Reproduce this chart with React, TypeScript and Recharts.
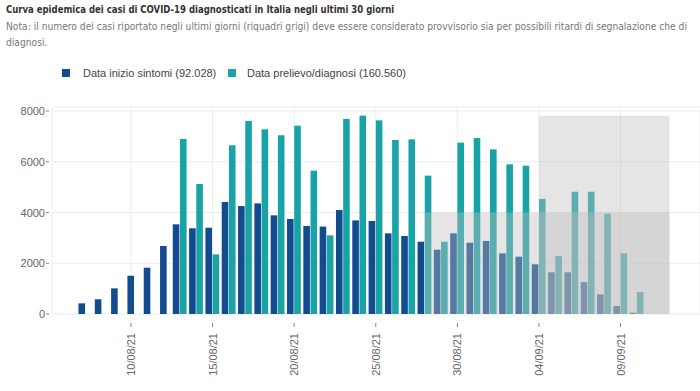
import { BarChart, Bar, XAxis, YAxis, CartesianGrid, ReferenceArea } from "recharts"

// giorni sull'asse (gli ultimi due servono solo per i riquadri grigi)
const dates = [
  "07/08/21", "08/08/21", "09/08/21", "10/08/21", "11/08/21", "12/08/21", "13/08/21",
  "14/08/21", "15/08/21", "16/08/21", "17/08/21", "18/08/21", "19/08/21", "20/08/21",
  "21/08/21", "22/08/21", "23/08/21", "24/08/21", "25/08/21", "26/08/21", "27/08/21",
  "28/08/21", "29/08/21", "30/08/21", "31/08/21", "01/09/21", "02/09/21", "03/09/21",
  "04/09/21", "05/09/21", "06/09/21", "07/09/21", "08/09/21", "09/09/21", "10/09/21",
  "11/09/21", "12/09/21",
]

// Data inizio sintomi
const sintomi = [
  420, 580, 1010, 1510, 1825, 2680, 3535,
  3380, 3400, 4415, 4255, 4360, 3890, 3745,
  3470, 3445, 4100, 3690, 3665, 3180, 3075,
  2850, 2535, 3180, 2810, 2880, 2390, 2260,
  1960, 1645, 1645, 1260, 775, 315, 50,
]

// Data prelievo/diagnosi
const diagnosi: (number | null)[] = [
  null, null, null, null, null, null, 6900,
  5125, 2350, 6650, 7610, 7280, 7045, 7425,
  5650, 3100, 7690, 7820, 7635, 6860, 6885,
  5455, 2850, 6755, 6935, 6490, 5900, 5845,
  4535, 2285, 4820, 4820, 3955, 2390, 865,
]

const tickDates = ["10/08/21", "15/08/21", "20/08/21", "25/08/21", "30/08/21", "04/09/21", "09/09/21"]
const yTicks = [0, 2000, 4000, 6000, 8000]

// riquadri grigi (dati provvisori)
const boxLow = { from: "28/08/21", to: "12/09/21", top: 4000 }
const boxHigh = { from: "04/09/21", to: "12/09/21" }

const BLUE = "#124b8e"
const TEAL = "#1aa3a7"
const GAP = 0.6

const data = sintomi.map((v, i) => ({ idx: i, sintomi: v, diagnosi: diagnosi[i] }))
const maxDiagnosi = Math.max(...diagnosi.map((d) => d ?? 0))

function SintomiBar(props: any) {
  const { x, y, width, height, payload } = props
  if (!height || height <= 0) return <g />
  // senza diagnosi la barra resta al centro del giorno
  const dx = payload.diagnosi == null ? (width + GAP) / 2 : 0
  return <rect x={x + dx} y={y} width={width} height={height} fill={BLUE} />
}

function DiagnosiBar(props: any) {
  const { x, y, width, height, payload } = props
  if (payload.diagnosi == null || !height || height <= 0) return <g />
  return <rect x={x} y={y} width={width} height={height} fill={TEAL} />
}

function DateTick({ x, y, payload }: any) {
  return (
    <g transform={`translate(${x},${y})`}>
      <line x1={0} x2={0} y1={9} y2={13} stroke="#888" />
      <text
        transform="rotate(-90)"
        x={-19}
        y={0}
        dy={4}
        textAnchor="end"
        fontSize={11}
        fill="#666"
        fontFamily="Liberation Sans, Arial, sans-serif"
      >
        {dates[payload.value]}
      </text>
    </g>
  )
}

function ValueTick({ x, y, payload }: any) {
  return (
    <g>
      <line x1={x - 6} x2={x - 3} y1={y} y2={y} stroke="#888" />
      <text
        x={x - 7}
        y={y}
        dy={4}
        textAnchor="end"
        fontSize={11}
        fill="#666"
        fontFamily="Liberation Sans, Arial, sans-serif"
      >
        {payload.value}
      </text>
    </g>
  )
}

const narrow = {
  position: "absolute" as const,
  left: 6,
  fontFamily: "DejaVu Sans Condensed, Liberation Sans, sans-serif",
  whiteSpace: "nowrap" as const,
  transformOrigin: "left top",
}

export default function App() {
  return (
    <div
      style={{
        position: "relative",
        width: 700,
        height: 391,
        background: "#fff",
        fontFamily: "Liberation Sans, Arial, sans-serif",
      }}
    >
      <style>{"body{margin:0}"}</style>
      <div style={{ ...narrow, top: 3, fontSize: 11, fontWeight: "bold", color: "#333", transform: "scaleX(0.86)" }}>
        Curva epidemica dei casi di COVID-19 diagnosticati in Italia negli ultimi 30 giorni
      </div>
      <div style={{ ...narrow, top: 19, fontSize: 11, lineHeight: "16px", color: "#777", transform: "scaleX(0.925)" }}>
        Nota: il numero dei casi riportato negli ultimi giorni (riquadri grigi) deve essere considerato provvisorio
        sia per possibili ritardi di segnalazione che di
        <br />
        diagnosi.
      </div>

      <div style={{ position: "absolute", left: 62, top: 67, display: "flex", alignItems: "center", fontSize: 11, color: "#444" }}>
        <span style={{ width: 8, height: 8, background: BLUE, display: "inline-block", marginRight: 13 }} />
        <span>Data inizio sintomi (92.028)</span>
      </div>
      <div style={{ position: "absolute", left: 228, top: 67, display: "flex", alignItems: "center", fontSize: 11, color: "#444" }}>
        <span style={{ width: 8, height: 8, background: TEAL, display: "inline-block", marginRight: 11 }} />
        <span>Data prelievo/diagnosi (160.560)</span>
      </div>

      <div style={{ position: "absolute", left: 0, top: 0 }}>
        <BarChart
          width={700}
          height={391}
          data={data}
          margin={{ top: 107, right: 0, bottom: 0, left: 0 }}
          barGap={GAP}
        >
          <CartesianGrid stroke="#ececec" />
          <XAxis
            dataKey="idx"
            type="number"
            domain={[-1.84, 37.87]}
            allowDataOverflow
            ticks={tickDates.map((d) => dates.indexOf(d))}
            tick={<DateTick />}
            tickSize={0}
            tickMargin={0}
            axisLine={false}
            tickLine={false}
            height={77}
            interval={0}
          />
          <YAxis
            domain={[0, 8160]}
            allowDataOverflow
            ticks={yTicks}
            tick={<ValueTick />}
            tickSize={0}
            tickMargin={0}
            axisLine={false}
            tickLine={false}
            width={52}
            interval={0}
          />
          <Bar dataKey="sintomi" barSize={6.6} shape={<SintomiBar />} isAnimationActive={false} />
          <Bar dataKey="diagnosi" barSize={6.6} shape={<DiagnosiBar />} isAnimationActive={false} />
          <ReferenceArea
            x1={dates.indexOf(boxLow.from)}
            x2={dates.indexOf(boxLow.to)}
            y1={0}
            y2={boxLow.top}
            fill="#bebebe"
            fillOpacity={0.4}
            stroke="none"
            zIndex={700}
          />
          <ReferenceArea
            x1={dates.indexOf(boxHigh.from)}
            x2={dates.indexOf(boxHigh.to)}
            y1={0}
            y2={maxDiagnosi}
            fill="#bebebe"
            fillOpacity={0.4}
            stroke="none"
            zIndex={700}
          />
        </BarChart>
      </div>
    </div>
  )
}
